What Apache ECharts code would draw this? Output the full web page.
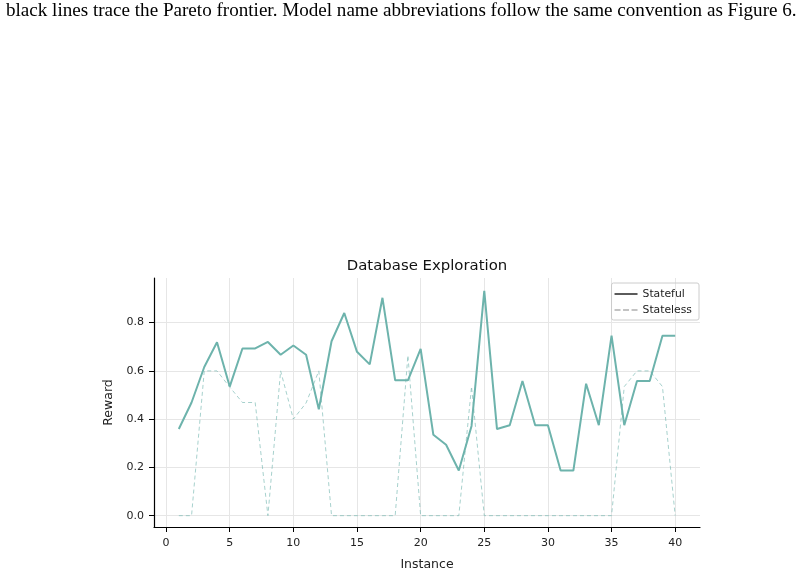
<!DOCTYPE html>
<html><head><meta charset="utf-8">
<script src="https://cdn.jsdelivr.net/npm/echarts@6/dist/echarts.min.js"></script>
<style>html,body{margin:0;padding:0;background:#fff}#c{width:803px;height:576px}</style>
</head><body><div id="c"></div>
<script>
const instances = Array.from({length:40},(_,i)=>i+1);
const stateful = [0.359,0.469,0.616,0.719,0.535,0.693,0.693,0.720,0.667,0.705,0.667,0.441,0.723,0.840,0.679,0.627,0.903,0.561,0.561,0.691,0.335,0.294,0.187,0.372,0.932,0.359,0.375,0.558,0.375,0.375,0.187,0.187,0.547,0.375,0.746,0.375,0.558,0.558,0.746,0.746];
const stateless = [0,0,0.6,0.6,0.533,0.469,0.469,0,0.6,0.4,0.467,0.6,0,0,0,0,0,0,0.664,0,0,0,0,0.535,0,0,0,0,0,0,0,0,0,0,0,0.535,0.6,0.6,0.535,0];
const xTicks = [0,5,10,15,20,25,30,35,40];
const yTicks = [0,0.2,0.4,0.6,0.8];
const caption = 'black lines trace the Pareto frontier. Model name abbreviations follow the same convention as Figure 6.';
const chartTitle = 'Database Exploration';

const teal = '#6db3ac';
const gridColor = '#e6e6e6';
const xMin=-0.95, xMax=41.95, yMin=-0.047, yMax=0.985;

const gridLines = [];
xTicks.forEach(v=>gridLines.push({xAxis:v}));
yTicks.forEach(v=>gridLines.push({yAxis:v}));

const chart = echarts.init(document.getElementById('c'));
chart.setOption({
  animation:false,
  graphic:[
    {type:'text',left:6,top:1,style:{text:caption,font:'19.1px "Liberation Serif"',fill:'#000'}},
    {type:'text',x:427,y:266,style:{text:chartTitle,font:'14.9px "DejaVu Sans"',fill:'#111',align:'center',verticalAlign:'middle'}}
  ],
  grid:{left:154,right:103,top:278,bottom:49},
  legend:{right:104,top:283,orient:'vertical',itemGap:4,itemWidth:23,itemHeight:1.6,
    padding:[5,7,4,3],borderColor:'#cccccc',borderWidth:1,borderRadius:2,
    textStyle:{fontFamily:'DejaVu Sans',fontSize:10.8,color:'#222',lineHeight:12},
    data:[{name:'Stateful',icon:'rect',itemStyle:{color:'#333',borderWidth:0}},
          {name:'Stateless',icon:'path://M0,0h6v1h-6z M8.5,0h6v1h-6z M17,0h6v1h-6z',itemStyle:{color:'#888',borderWidth:0}}]},
  xAxis:{type:'value',min:xMin,max:xMax,name:'Instance',nameLocation:'middle',nameGap:31,
    nameTextStyle:{fontFamily:'DejaVu Sans',fontSize:12.5,color:'#222'},
    axisLine:{onZero:false,lineStyle:{color:'#000',width:1.2}},
    axisTick:{show:true,customValues:xTicks,length:5,lineStyle:{color:'#000'}},
    axisLabel:{customValues:xTicks,fontFamily:'DejaVu Sans',fontSize:11,color:'#222',margin:11},
    splitLine:{show:false}},
  yAxis:{type:'value',min:yMin,max:yMax,name:'Reward',nameLocation:'middle',nameGap:35,
    nameTextStyle:{fontFamily:'DejaVu Sans',fontSize:12.5,color:'#222'},
    axisLine:{show:true,onZero:false,lineStyle:{color:'#000',width:1.2}},
    axisTick:{show:true,customValues:yTicks,length:5,lineStyle:{color:'#000'}},
    axisLabel:{customValues:yTicks,fontFamily:'DejaVu Sans',fontSize:11,color:'#222',margin:10,
      formatter:v=>v.toFixed(1)},
    splitLine:{show:false}},
  series:[
    {name:'grid',type:'line',data:[],z:0,silent:true,
      markLine:{silent:true,z:0,symbol:'none',label:{show:false},animation:false,
        lineStyle:{color:gridColor,width:1,type:'solid'},data:gridLines}},
    {name:'Stateless',type:'line',symbol:'none',z:2,
      data:instances.map((x,i)=>[x,stateless[i]]),
      lineStyle:{color:teal,opacity:0.6,width:1,type:[4,3]},itemStyle:{color:teal}},
    {name:'Stateful',type:'line',symbol:'none',z:3,
      data:instances.map((x,i)=>[x,stateful[i]]),
      lineStyle:{color:teal,width:2},itemStyle:{color:teal}}
  ]
});
</script></body></html>
